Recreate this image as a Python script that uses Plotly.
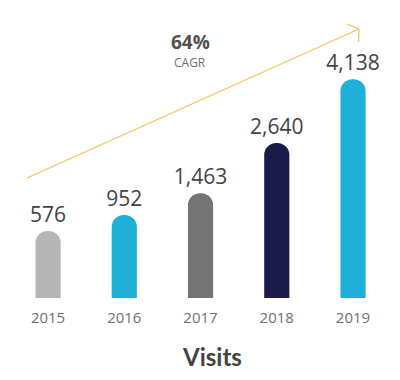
import plotly.graph_objects as go

years = [2015, 2016, 2017, 2018, 2019]
visits = [576, 952, 1463, 2640, 4138]
colors = ["#b5b5b5", "#1fb0d8", "#747474", "#1b1a4b", "#1fb0d8"]
cagr_text = "64%"
cagr_label = "CAGR"
title_text = "Visits"

OFFSET = 1000  # visual floor under each bar, as in the original design
PLOT_H = 298   # pixel height of the plot area (bars stand on its bottom edge)


def py(p):
    """figure pixel row -> paper y (plot area spans rows 0..PLOT_H)"""
    return (PLOT_H - p) / PLOT_H


fig = go.Figure()
fig.add_trace(go.Bar(
    x=years,
    y=[v + OFFSET for v in visits],
    width=0.33,
    marker=dict(color=colors, cornerradius="50%", line=dict(width=0)),
    text=[f"{v:,}" for v in visits],
    textposition="outside",
    constraintext="none",
    cliponaxis=False,
    textfont=dict(family="Open Sans, sans-serif", size=21, color="#444444"),
    hoverinfo="skip",
))

fig.update_layout(
    width=400, height=380,
    margin=dict(l=0, r=0, t=0, b=380 - PLOT_H),
    paper_bgcolor="white", plot_bgcolor="white",
    showlegend=False,
    xaxis=dict(range=[2014.37, 2019.616], tickvals=years, ticktext=[str(y) for y in years],
               showgrid=False, zeroline=False, showline=False, ticks="",
               tickfont=dict(family="Open Sans, sans-serif", size=15, color="#707070"),
               ticklabelstandoff=9),
    yaxis=dict(range=[0, PLOT_H * 23.5], visible=False),
    shapes=[
        dict(type="line", xref="paper", yref="paper", x0=27/400, y0=py(178), x1=359/400, y1=py(29),
             line=dict(color="#f0c45c", width=1.3)),
        dict(type="path", xref="paper", yref="paper",
             path=f"M {347/400},{py(24)} L {359/400},{py(29)} L {358.5/400},{py(42)}",
             line=dict(color="#f0c45c", width=1.3)),
    ],
    annotations=[
        dict(text=f"<b>{cagr_text}</b>", xref="paper", yref="paper", x=190/400, y=py(42),
             xanchor="center", yanchor="middle",
             showarrow=False, font=dict(family="Open Sans, sans-serif", size=19, color="#505050")),
        dict(text=cagr_label, xref="paper", yref="paper", x=190/400, y=py(62),
             xanchor="center", yanchor="middle",
             showarrow=False, font=dict(family="Open Sans, sans-serif", size=12, color="#707070")),
        dict(text=f"<b>{title_text}</b>", xref="paper", yref="paper", x=212/400, y=py(357),
             xanchor="center", yanchor="middle",
             showarrow=False, font=dict(family="Lato, sans-serif", size=24, color="#444444")),
    ],
)

fig.write_html("out.html", config={"displayModeBar": False},
               post_script="document.body.style.margin='0';")
